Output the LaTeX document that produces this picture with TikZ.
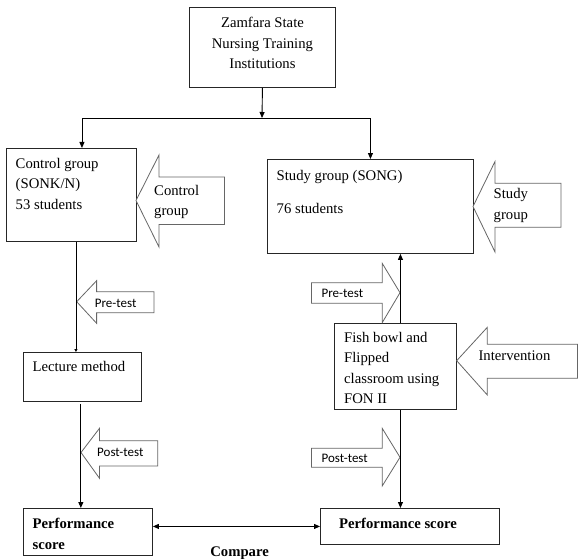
\documentclass[tikz,border=0pt]{standalone}
\usepackage{fontspec}
\setmainfont{Liberation Serif}
\newfontfamily\calibrifont{Carlito}
\usepackage{tikz}
\usetikzlibrary{arrows.meta}
\newcommand{\bodyfont}{\fontsize{14.7pt}{20.5pt}\selectfont}
\tikzset{
    box/.style={rectangle, draw=black!85, line width=0.9pt, anchor=north west, inner sep=0pt},
    boxtext/.style={inner sep=0pt, anchor=north west, align=left, font=\bodyfont},
    testtext/.style={inner sep=0pt, anchor=north west, font=\calibrifont\fontsize{13pt}{15pt}\selectfont},
    bigarrow/.style={draw=black!60, line width=0.8pt, fill=white},
    arrowline/.style={-{Triangle[length=6pt,width=5pt]}, line width=0.9pt}
}

\begin{document}
\begin{tikzpicture}[x=1pt, y=-1pt]
  \useasboundingbox (0,0) rectangle (578,559);
  % boxes
  \node[box, minimum width=146pt, minimum height=80pt] (inst) at (189,7) {};
  \node[box, minimum width=130pt, minimum height=93pt] (ctrl) at (5.5,148) {};
  \node[box, minimum width=206pt, minimum height=94pt] (study) at (267,159) {};
  \node[box, minimum width=118pt, minimum height=49pt] (lecture) at (23,352) {};
  \node[box, minimum width=122pt, minimum height=86pt] (fish) at (334,323) {};
  \node[box, minimum width=129pt, minimum height=47pt] (perfL) at (23,508) {};
  \node[box, minimum width=179pt, minimum height=36pt] (perfR) at (320,508) {};
  % box texts
  \node[boxtext, align=center, anchor=north] (insttext) at ([shift={(0,10)}]inst.north) {Zamfara State\\Nursing Training\\Institutions};
  \node[boxtext] (ctrltext) at ([shift={(10,10)}]ctrl.north west) {Control group\\(SONK/N)\\53 students};
  \node[boxtext] (studytext) at ([shift={(9.5,11)}]study.north west) {Study group (SONG)\\[12.5pt]76 students};
  \node[boxtext] (lecturetext) at ([shift={(9.4,9)}]lecture.north west) {Lecture method};
  \node[boxtext] (fishtext) at ([shift={(10,9)}]fish.north west) {Fish bowl and\\Flipped\\classroom using\\FON II};
  \node[boxtext, font=\bodyfont\bfseries] (perfLtext) at ([shift={(9.4,10)}]perfL.north west) {Performance\\score};
  \node[boxtext, font=\bodyfont\bfseries] (perfRtext) at ([shift={(19,10)}]perfR.north west) {Performance score};
  % block arrows
  \draw[bigarrow] (136,200.5) -- (159,155) -- (159,177) -- (224.5,177) -- (224.5,224.5) -- (159,224.5) -- (159,247) -- cycle;
  \node[boxtext] (ctrllabel) at (154,185) {Control\\group};
  \draw[bigarrow] (473,206.5) -- (495,161.5) -- (495,183.3) -- (561,183.3) -- (561,227.3) -- (495,227.3) -- (495,252) -- cycle;
  \node[boxtext] (studylabel) at (493.5,188.5) {Study\\group};
  \draw[bigarrow] (76.7,301.7) -- (96.6,280.7) -- (96.6,291.7) -- (154,291.7) -- (154,312.7) -- (96.6,312.7) -- (96.6,323.3) -- cycle;
  \node[testtext] (pretestL) at (94.7,298.8) {Pre-test};
  \draw[bigarrow] (81,452.5) -- (99.5,428.3) -- (99.5,440.7) -- (157.8,440.7) -- (157.8,466) -- (99.5,466) -- (99.5,478.3) -- cycle;
  \node[testtext] (posttestL) at (97,447.8) {Post-test};
  \draw[bigarrow] (456.7,360.7) -- (487.3,327.3) -- (487.3,344.3) -- (577.5,344.3) -- (577.5,378.3) -- (487.3,378.3) -- (487.3,395) -- cycle;
  \node[boxtext] (intervlabel) at (478.3,351) {Intervention};
  \draw[bigarrow] (400,292.7) -- (382.2,263.3) -- (382.2,282.7) -- (311.5,282.7) -- (311.5,303.3) -- (382.2,303.3) -- (382.2,322.7) -- cycle;
  \node[testtext] (pretestR) at (321.4,288.8) {Pre-test};
  \draw[bigarrow] (400,457.3) -- (382.2,428.3) -- (382.2,448.3) -- (311.5,448.3) -- (311.5,467.3) -- (382.2,467.3) -- (382.2,486) -- cycle;
  \node[testtext] (posttestR) at (321.4,453.8) {Post-test};
  % connectors
  \coordinate (split) at (262,118);
  \draw[arrowline] (inst.south) -- (split);
  \draw[arrowline] (split) -| ([xshift=11pt]ctrl.north);
  \draw[arrowline] (split) -| (study.north);
  \draw[-{Triangle[length=3pt,width=3pt]}, line width=0.9pt] ([xshift=5pt]ctrl.south) -- ([xshift=5pt]ctrl.south |- lecture.north);
  \draw[arrowline] ([shift={(-1.6,2)}]lecture.south) -- ([xshift=-1.6pt]lecture.south |- perfL.north);
  \draw[arrowline] ([xshift=5pt]fish.north) -- ([xshift=5pt]fish.north |- study.south);
  \draw[arrowline] ([xshift=5pt]fish.south) -- ([xshift=5pt]fish.south |- perfR.north);
  \draw[{Triangle[length=6pt,width=5pt]}-{Triangle[length=6pt,width=5pt]}, line width=0.9pt] (perfR.west -| perfL.east) -- (perfR.west);
  \node[boxtext, font=\bodyfont\bfseries, anchor=north] (compare) at (239.6,547) {Compare};
\end{tikzpicture}
\end{document}
